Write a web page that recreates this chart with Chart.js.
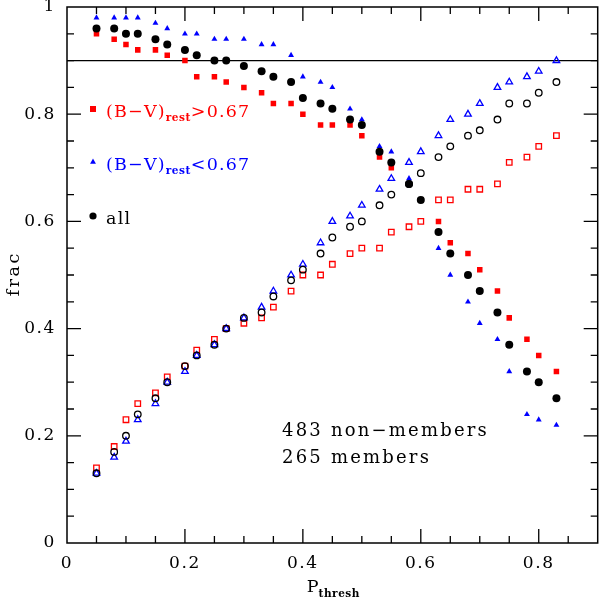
<!DOCTYPE html>
<html><head><meta charset="utf-8">
<script src="https://cdn.jsdelivr.net/npm/chart.js@4/dist/chart.umd.min.js"></script>
<style>html,body{margin:0;padding:0;background:#fff}canvas{display:block}</style>
</head><body>
<canvas id="c" width="603" height="600"></canvas>
<script>
// ---- data ----
const pThresh = [0.05,0.08,0.10,0.12,0.15,0.17,0.20,0.22,0.25,0.27,0.30,0.33,0.35,0.38,0.40,0.43,0.45,0.48,0.50,0.53,0.55,0.58,0.60,0.63,0.65,0.68,0.70,0.73,0.75,0.78,0.80,0.83];
// filled symbols (decreasing curves)
const redFilled  = [0.95,0.94,0.93,0.92,0.92,0.91,0.90,0.87,0.87,0.86,0.85,0.84,0.82,0.82,0.80,0.78,0.78,0.78,0.76,0.72,0.70,0.67,0.64,0.60,0.56,0.54,0.51,0.47,0.42,0.38,0.35,0.32];
const blueFilled = [0.98,0.98,0.98,0.98,0.97,0.96,0.95,0.95,0.94,0.94,0.94,0.93,0.93,0.91,0.87,0.86,0.85,0.81,0.79,0.74,0.73,0.68,0.64,0.55,0.50,0.45,0.41,0.38,0.32,0.24,0.23,0.22];
const allFilled  = [0.96,0.96,0.95,0.95,0.94,0.93,0.92,0.91,0.90,0.90,0.89,0.88,0.87,0.86,0.83,0.82,0.81,0.79,0.78,0.73,0.71,0.67,0.64,0.58,0.54,0.50,0.47,0.43,0.37,0.32,0.30,0.27];
// open symbols (increasing curves)
const redOpen    = [0.14,0.18,0.23,0.26,0.28,0.31,0.33,0.36,0.38,0.40,0.41,0.42,0.44,0.47,0.50,0.50,0.52,0.54,0.55,0.55,0.58,0.59,0.60,0.64,0.64,0.66,0.66,0.67,0.71,0.72,0.74,0.76];
const blueOpen   = [0.13,0.16,0.19,0.23,0.26,0.30,0.32,0.35,0.37,0.40,0.42,0.44,0.47,0.50,0.52,0.56,0.60,0.61,0.63,0.66,0.68,0.71,0.73,0.76,0.79,0.80,0.82,0.85,0.86,0.87,0.88,0.90];
const allOpen    = [0.13,0.17,0.20,0.24,0.27,0.30,0.33,0.35,0.37,0.40,0.42,0.43,0.46,0.49,0.51,0.54,0.57,0.59,0.60,0.63,0.65,0.67,0.69,0.72,0.74,0.76,0.77,0.79,0.82,0.82,0.84,0.86];

const xTicks = [0, 0.2, 0.4, 0.6, 0.8];
const yTicks = [0, 0.2, 0.4, 0.6, 0.8, 1];
const xRange = [0, 0.9];
const yRange = [0, 1];
const minorStep = 0.05;
const refLine = 0.9;

const legendItems = [
  {main: '(B\u2212V)', sub: 'rest', tail: '>0.67', color: '#ff0000', marker: 'rect'},
  {main: '(B\u2212V)', sub: 'rest', tail: '<0.67', color: '#0000ff', marker: 'triangle'},
  {main: 'all', sub: '', tail: '', color: '#000000', marker: 'circle'}
];
const noteLines = ['483 non\u2212members', '265 members'];
const xTitle = {main: 'P', sub: 'thresh'};
const yTitle = 'frac';

const SERIF = '"DejaVu Serif", "Liberation Serif", serif';
const pts = arr => pThresh.map((x, i) => ({x: x, y: arr[i]}));

function fmt(v) { return String(Math.round(v * 100) / 100); }

function drawMarker(ctx, type, x, y, color) {
  ctx.save();
  ctx.fillStyle = color;
  ctx.beginPath();
  if (type === 'rect') {
    ctx.rect(x - 3, y - 3, 6, 6);
  } else if (type === 'triangle') {
    const r = 3.4;
    ctx.moveTo(x, y - r);
    ctx.lineTo(x + r * 0.866, y + r * 0.5);
    ctx.lineTo(x - r * 0.866, y + r * 0.5);
    ctx.closePath();
  } else {
    ctx.arc(x, y, 3.6, 0, Math.PI * 2);
  }
  ctx.fill();
  ctx.restore();
}

function drawSubText(ctx, x, y, item, size, subSize, color, spacing) {
  ctx.save();
  ctx.fillStyle = color;
  ctx.textAlign = 'left';
  ctx.textBaseline = 'alphabetic';
  ctx.letterSpacing = spacing + 'px';
  ctx.font = size + 'px ' + SERIF;
  ctx.fillText(item.main, x, y);
  let cx = x + ctx.measureText(item.main).width;
  if (item.sub) {
    ctx.font = 'bold ' + subSize + 'px ' + SERIF;
    ctx.letterSpacing = '0.5px';
    ctx.fillText(item.sub, cx, y + 4.5);
    cx += ctx.measureText(item.sub).width;
  }
  if (item.tail) {
    ctx.font = size + 'px ' + SERIF;
    ctx.letterSpacing = spacing + 'px';
    ctx.fillText(item.tail, cx, y);
  }
  ctx.restore();
}

const framePlugin = {
  id: 'frame',
  beforeDraw(chart) {
    chart.ctx.letterSpacing = '1.6px';
  },
  beforeDatasetsDraw(chart) {
    const {ctx, chartArea: a, scales: {x, y}} = chart;
    ctx.save();
    ctx.strokeStyle = '#000';
    ctx.lineWidth = 1.2;
    const py = y.getPixelForValue(refLine);
    ctx.beginPath();
    ctx.moveTo(a.left, py);
    ctx.lineTo(a.right, py);
    ctx.stroke();
    ctx.restore();
  },
  afterDatasetsDraw(chart) {
    const {ctx, chartArea: a, scales: {x, y}} = chart;
    ctx.save();
    ctx.strokeStyle = '#000';
    ctx.lineWidth = 1.3;
    const isMajor = (v, list) => list.some(t => Math.abs(t - v) < 1e-9);
    ctx.beginPath();
    const nx = Math.round((xRange[1] - xRange[0]) / minorStep);
    for (let i = 1; i < nx; i++) {
      const v = xRange[0] + i * minorStep;
      const L = isMajor(v, xTicks) ? 14 : 7;
      const px = x.getPixelForValue(v);
      ctx.moveTo(px, a.bottom); ctx.lineTo(px, a.bottom - L);
      ctx.moveTo(px, a.top); ctx.lineTo(px, a.top + L);
    }
    const ny = Math.round((yRange[1] - yRange[0]) / minorStep);
    for (let i = 1; i < ny; i++) {
      const v = yRange[0] + i * minorStep;
      const L = isMajor(v, yTicks) ? 14 : 7;
      const py = y.getPixelForValue(v);
      ctx.moveTo(a.left, py); ctx.lineTo(a.left + L, py);
      ctx.moveTo(a.right, py); ctx.lineTo(a.right - L, py);
    }
    ctx.stroke();
    ctx.lineWidth = 1.5;
    ctx.strokeRect(a.left, a.top, a.right - a.left, a.bottom - a.top);
    ctx.restore();
  },
  afterDraw(chart) {
    const {ctx, chartArea: a} = chart;
    ctx.save();
    // legend
    const legY = [109, 162, 216];
    legendItems.forEach((it, i) => {
      drawMarker(ctx, it.marker, 93, legY[i], it.color);
      drawSubText(ctx, 106, legY[i] + 7.5, it, 17.5, 10.5, it.color, 1.2);
    });
    // notes
    ctx.fillStyle = '#000';
    ctx.font = '18px ' + SERIF;
    ctx.letterSpacing = '2.2px';
    ctx.textAlign = 'left';
    ctx.textBaseline = 'alphabetic';
    ctx.fillText(noteLines[0], 282, 436);
    ctx.fillText(noteLines[1], 282, 463);
    // x title
    ctx.font = '17.5px ' + SERIF;
    ctx.letterSpacing = '0px';
    const wP = ctx.measureText(xTitle.main).width;
    ctx.font = 'bold 10.5px ' + SERIF;
    ctx.letterSpacing = '0.5px';
    const wS = ctx.measureText(xTitle.sub).width;
    const x0 = (a.left + a.right) / 2 - (wP + wS) / 2 + 1;
    drawSubText(ctx, x0, 592, xTitle, 17.5, 10.5, '#000', 0);
    // y title
    ctx.save();
    ctx.translate(18.5, (a.top + a.bottom) / 2);
    ctx.rotate(-Math.PI / 2);
    ctx.font = '17.5px ' + SERIF;
    ctx.letterSpacing = '2.5px';
    ctx.textAlign = 'center';
    ctx.fillStyle = '#000';
    ctx.fillText(yTitle, 1.2, 0);
    ctx.restore();
    ctx.restore();
  }
};

const tickFont = {family: SERIF, size: 17};
const zeroPad = s => { s.paddingTop = 0; s.paddingBottom = 0; s.paddingLeft = 0; s.paddingRight = 0; };

// Chart.js paints the first dataset on top, so the filled black points come first.
new Chart(document.getElementById('c'), {
  type: 'scatter',
  data: {
    datasets: [
      {data: pts(allFilled),  pointStyle: 'circle',   pointRadius: 4.0, backgroundColor: '#000000', borderColor: '#000000', borderWidth: 0},
      {data: pts(blueFilled), pointStyle: 'triangle', pointRadius: 3.4, backgroundColor: '#0000ff', borderColor: '#0000ff', borderWidth: 0},
      {data: pts(redFilled),  pointStyle: 'rect',     pointRadius: 3.9, backgroundColor: '#ff0000', borderColor: '#ff0000', borderWidth: 0},
      {data: pts(allOpen),  pointStyle: 'circle',   pointRadius: 3.3, backgroundColor: 'rgba(0,0,0,0)', borderColor: '#000000', borderWidth: 1.3},
      {data: pts(blueOpen), pointStyle: 'triangle', pointRadius: 3.8, backgroundColor: 'rgba(0,0,0,0)', borderColor: '#0000ff', borderWidth: 1.3},
      {data: pts(redOpen),  pointStyle: 'rect',     pointRadius: 3.9, backgroundColor: 'rgba(0,0,0,0)', borderColor: '#ff0000', borderWidth: 1.3}
    ]
  },
  options: {
    responsive: false,
    animation: false,
    devicePixelRatio: 1,
    layout: {padding: {top: 7, right: 1, left: 0, bottom: 0}},
    plugins: {legend: {display: false}, tooltip: {enabled: false}},
    scales: {
      x: {
        type: 'linear', min: xRange[0], max: xRange[1],
        grid: {display: false, drawTicks: false, tickLength: 0},
        border: {display: false},
        afterBuildTicks: s => { s.ticks = xTicks.map(v => ({value: v})); },
        afterFit: s => { s.height = 57; zeroPad(s); },
        ticks: {padding: 10, font: tickFont, color: '#000', callback: v => fmt(v), maxRotation: 0, autoSkip: false}
      },
      y: {
        type: 'linear', min: yRange[0], max: yRange[1],
        grid: {display: false, drawTicks: false, tickLength: 0},
        border: {display: false},
        afterBuildTicks: s => { s.ticks = yTicks.map(v => ({value: v})); },
        afterFit: s => { s.width = 67; zeroPad(s); },
        ticks: {padding: 11, font: tickFont, color: '#000', callback: v => fmt(v), autoSkip: false}
      }
    }
  },
  plugins: [framePlugin]
});
</script>
</body></html>
